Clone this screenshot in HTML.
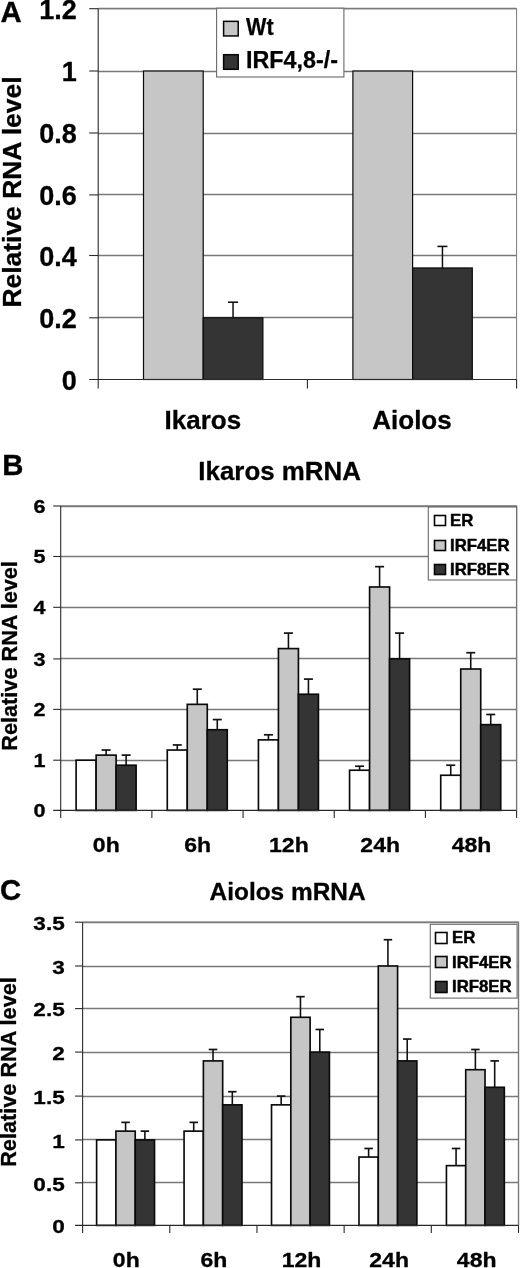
<!DOCTYPE html>
<html lang="en"><head><meta charset="utf-8"><title>Relative RNA level of Ikaros and Aiolos</title>
<style>
html,body{margin:0;padding:0;background:#fff;}
body{width:520px;height:1268px;overflow:hidden;}
svg{display:block;}
svg text{font-family:"Liberation Sans", Arial, Helvetica, sans-serif;font-weight:bold;}
</style></head><body>
<svg width="520" height="1268" viewBox="0 0 520 1268" role="img" aria-label="Bar charts of relative RNA level">
<rect x="0" y="0" width="520" height="1268" fill="#fff"/>
<g>
<rect x="98.2" y="8.7" width="418.4" height="370.8" fill="#fff"/>
<line x1="98.2" y1="317.5" x2="516.6" y2="317.5" stroke="#787878" stroke-width="1.35"/>
<line x1="98.2" y1="255.5" x2="516.6" y2="255.5" stroke="#787878" stroke-width="1.35"/>
<line x1="98.2" y1="194.5" x2="516.6" y2="194.5" stroke="#787878" stroke-width="1.35"/>
<line x1="98.2" y1="133.5" x2="516.6" y2="133.5" stroke="#787878" stroke-width="1.35"/>
<line x1="98.2" y1="71.5" x2="516.6" y2="71.5" stroke="#787878" stroke-width="1.35"/>
<line x1="98.2" y1="8.5" x2="516.6" y2="8.5" stroke="#787878" stroke-width="1.35"/>
<line x1="98.2" y1="8.7" x2="516.6" y2="8.7" stroke="#7a7a7a" stroke-width="1.3"/>
<line x1="516.6" y1="8.2" x2="516.6" y2="379.5" stroke="#7a7a7a" stroke-width="1"/>
<rect x="143.5" y="71" width="59.7" height="308.5" fill="#c6c6c6" stroke="#0a0a0a" stroke-width="1.2"/>
<line x1="233.05" y1="317.8" x2="233.05" y2="302.23" stroke="#111" stroke-width="1.5"/>
<line x1="228.05" y1="302.23" x2="238.05" y2="302.23" stroke="#111" stroke-width="1.6"/>
<rect x="203.2" y="317.8" width="59.7" height="61.7" fill="#343434" stroke="#0a0a0a" stroke-width="1.2"/>
<rect x="352.9" y="71" width="59.7" height="308.5" fill="#c6c6c6" stroke="#0a0a0a" stroke-width="1.2"/>
<line x1="442.45" y1="267.96" x2="442.45" y2="246.41" stroke="#111" stroke-width="1.5"/>
<line x1="437.45" y1="246.41" x2="447.45" y2="246.41" stroke="#111" stroke-width="1.6"/>
<rect x="412.6" y="267.96" width="59.7" height="111.54" fill="#343434" stroke="#0a0a0a" stroke-width="1.2"/>
<line x1="98.2" y1="8.7" x2="98.2" y2="388.5" stroke="#2a2a2a" stroke-width="1.1"/>
<line x1="89.2" y1="379.5" x2="516.6" y2="379.5" stroke="#2a2a2a" stroke-width="1.1"/>
<line x1="89.2" y1="317.8" x2="98.2" y2="317.8" stroke="#2a2a2a" stroke-width="1.1"/>
<line x1="89.2" y1="255.5" x2="98.2" y2="255.5" stroke="#2a2a2a" stroke-width="1.1"/>
<line x1="89.2" y1="194.9" x2="98.2" y2="194.9" stroke="#2a2a2a" stroke-width="1.1"/>
<line x1="89.2" y1="133" x2="98.2" y2="133" stroke="#2a2a2a" stroke-width="1.1"/>
<line x1="89.2" y1="71" x2="98.2" y2="71" stroke="#2a2a2a" stroke-width="1.1"/>
<line x1="89.2" y1="8.7" x2="98.2" y2="8.7" stroke="#2a2a2a" stroke-width="1.1"/>
<line x1="307.4" y1="379.5" x2="307.4" y2="388.5" stroke="#2a2a2a" stroke-width="1.1"/>
<line x1="516.6" y1="379.5" x2="516.6" y2="388.5" stroke="#2a2a2a" stroke-width="1.1"/>
<text font-size="27" text-anchor="end" fill="#000" stroke="#000" stroke-width="0.3" stroke-linejoin="round" x="0" y="0" transform="translate(76.8 389.9) scale(1 1)">0</text>
<text font-size="27" text-anchor="end" fill="#000" stroke="#000" stroke-width="0.3" stroke-linejoin="round" x="0" y="0" transform="translate(76.8 328.2) scale(1 1)">0.2</text>
<text font-size="27" text-anchor="end" fill="#000" stroke="#000" stroke-width="0.3" stroke-linejoin="round" x="0" y="0" transform="translate(76.8 265.9) scale(1 1)">0.4</text>
<text font-size="27" text-anchor="end" fill="#000" stroke="#000" stroke-width="0.3" stroke-linejoin="round" x="0" y="0" transform="translate(76.8 205.3) scale(1 1)">0.6</text>
<text font-size="27" text-anchor="end" fill="#000" stroke="#000" stroke-width="0.3" stroke-linejoin="round" x="0" y="0" transform="translate(76.8 143.4) scale(1 1)">0.8</text>
<text font-size="27" text-anchor="end" fill="#000" stroke="#000" stroke-width="0.3" stroke-linejoin="round" x="0" y="0" transform="translate(76.8 81.4) scale(1 1)">1</text>
<text font-size="27" text-anchor="end" fill="#000" stroke="#000" stroke-width="0.3" stroke-linejoin="round" x="0" y="0" transform="translate(76.8 19.1) scale(1 1)">1.2</text>
<text font-size="26" text-anchor="middle" fill="#000" stroke="#000" stroke-width="0.3" stroke-linejoin="round" x="202.8" y="428.5">Ikaros</text>
<text font-size="26" text-anchor="middle" fill="#000" stroke="#000" stroke-width="0.3" stroke-linejoin="round" x="412" y="428.5">Aiolos</text>
<text font-size="25.5" text-anchor="middle" fill="#000" stroke="#000" stroke-width="0.3" stroke-linejoin="round" textLength="231" lengthAdjust="spacingAndGlyphs" x="0" y="0" transform="translate(21.3 192) rotate(-90)">Relative RNA level</text>
<text font-size="29.3" text-anchor="start" fill="#000" stroke="#000" stroke-width="0.3" stroke-linejoin="round" x="0.6" y="22.4">A</text>
<rect x="216.6" y="8.2" width="127.3" height="68.8" fill="#fff" stroke="#6a6a6a" stroke-width="1.1"/>
<rect x="223.6" y="21.35" width="14.6" height="14.6" fill="#c6c6c6" stroke="#050505" stroke-width="1.5"/>
<text font-size="23" text-anchor="start" fill="#000" stroke="#000" stroke-width="0.25" stroke-linejoin="round" textLength="27.6" lengthAdjust="spacingAndGlyphs" x="246" y="35.05">Wt</text>
<rect x="223.6" y="54.7" width="14.6" height="14.6" fill="#343434" stroke="#050505" stroke-width="1.5"/>
<text font-size="23" text-anchor="start" fill="#000" stroke="#000" stroke-width="0.25" stroke-linejoin="round" textLength="92" lengthAdjust="spacingAndGlyphs" x="246" y="68.4">IRF4,8-/-</text>
</g>
<g>
<rect x="60.7" y="506" width="455.9" height="304.4" fill="#fff"/>
<line x1="60.7" y1="760.5" x2="516.6" y2="760.5" stroke="#787878" stroke-width="1.35"/>
<line x1="60.7" y1="709.5" x2="516.6" y2="709.5" stroke="#787878" stroke-width="1.35"/>
<line x1="60.7" y1="658.5" x2="516.6" y2="658.5" stroke="#787878" stroke-width="1.35"/>
<line x1="60.7" y1="607.5" x2="516.6" y2="607.5" stroke="#787878" stroke-width="1.35"/>
<line x1="60.7" y1="556.5" x2="516.6" y2="556.5" stroke="#787878" stroke-width="1.35"/>
<line x1="60.7" y1="506.5" x2="516.6" y2="506.5" stroke="#787878" stroke-width="1.35"/>
<line x1="60.7" y1="506" x2="516.6" y2="506" stroke="#7a7a7a" stroke-width="1.4"/>
<line x1="516.6" y1="505.5" x2="516.6" y2="810.4" stroke="#7a7a7a" stroke-width="1.4"/>
<rect x="76.12" y="760.2" width="20" height="50.2" fill="#ffffff" stroke="#0a0a0a" stroke-width="1.65"/>
<line x1="106.12" y1="755.12" x2="106.12" y2="750.04" stroke="#111" stroke-width="1.6"/>
<line x1="101.62" y1="750.04" x2="110.62" y2="750.04" stroke="#111" stroke-width="1.7"/>
<rect x="96.12" y="755.12" width="20" height="55.28" fill="#c6c6c6" stroke="#0a0a0a" stroke-width="1.65"/>
<line x1="126.12" y1="765.22" x2="126.12" y2="755.12" stroke="#111" stroke-width="1.6"/>
<line x1="121.62" y1="755.12" x2="130.62" y2="755.12" stroke="#111" stroke-width="1.7"/>
<rect x="116.12" y="765.22" width="20" height="45.18" fill="#343434" stroke="#0a0a0a" stroke-width="1.65"/>
<line x1="177.27" y1="750.04" x2="177.27" y2="744.96" stroke="#111" stroke-width="1.6"/>
<line x1="172.77" y1="744.96" x2="181.77" y2="744.96" stroke="#111" stroke-width="1.7"/>
<rect x="167.27" y="750.04" width="20" height="60.36" fill="#ffffff" stroke="#0a0a0a" stroke-width="1.65"/>
<line x1="197.27" y1="704.35" x2="197.27" y2="689.2" stroke="#111" stroke-width="1.6"/>
<line x1="192.77" y1="689.2" x2="201.77" y2="689.2" stroke="#111" stroke-width="1.7"/>
<rect x="187.27" y="704.35" width="20" height="106.05" fill="#c6c6c6" stroke="#0a0a0a" stroke-width="1.65"/>
<line x1="217.27" y1="729.72" x2="217.27" y2="719.56" stroke="#111" stroke-width="1.6"/>
<line x1="212.77" y1="719.56" x2="221.77" y2="719.56" stroke="#111" stroke-width="1.7"/>
<rect x="207.27" y="729.72" width="20" height="80.68" fill="#343434" stroke="#0a0a0a" stroke-width="1.65"/>
<line x1="268.43" y1="739.88" x2="268.43" y2="734.8" stroke="#111" stroke-width="1.6"/>
<line x1="263.93" y1="734.8" x2="272.93" y2="734.8" stroke="#111" stroke-width="1.7"/>
<rect x="258.43" y="739.88" width="20" height="70.52" fill="#ffffff" stroke="#0a0a0a" stroke-width="1.65"/>
<line x1="288.43" y1="648.58" x2="288.43" y2="633.1" stroke="#111" stroke-width="1.6"/>
<line x1="283.93" y1="633.1" x2="292.93" y2="633.1" stroke="#111" stroke-width="1.7"/>
<rect x="278.43" y="648.58" width="20" height="161.82" fill="#c6c6c6" stroke="#0a0a0a" stroke-width="1.65"/>
<line x1="308.43" y1="694.25" x2="308.43" y2="679.1" stroke="#111" stroke-width="1.6"/>
<line x1="303.93" y1="679.1" x2="312.93" y2="679.1" stroke="#111" stroke-width="1.7"/>
<rect x="298.43" y="694.25" width="20" height="116.15" fill="#343434" stroke="#0a0a0a" stroke-width="1.65"/>
<line x1="359.58" y1="770.24" x2="359.58" y2="766.22" stroke="#111" stroke-width="1.6"/>
<line x1="355.08" y1="766.22" x2="364.08" y2="766.22" stroke="#111" stroke-width="1.7"/>
<rect x="349.58" y="770.24" width="20" height="40.16" fill="#ffffff" stroke="#0a0a0a" stroke-width="1.65"/>
<line x1="379.58" y1="586.98" x2="379.58" y2="566.66" stroke="#111" stroke-width="1.6"/>
<line x1="375.08" y1="566.66" x2="384.08" y2="566.66" stroke="#111" stroke-width="1.7"/>
<rect x="369.58" y="586.98" width="20" height="223.42" fill="#c6c6c6" stroke="#0a0a0a" stroke-width="1.65"/>
<line x1="399.58" y1="658.9" x2="399.58" y2="633.1" stroke="#111" stroke-width="1.6"/>
<line x1="395.08" y1="633.1" x2="404.08" y2="633.1" stroke="#111" stroke-width="1.7"/>
<rect x="389.58" y="658.9" width="20" height="151.5" fill="#343434" stroke="#0a0a0a" stroke-width="1.65"/>
<line x1="450.73" y1="775.26" x2="450.73" y2="765.22" stroke="#111" stroke-width="1.6"/>
<line x1="446.23" y1="765.22" x2="455.23" y2="765.22" stroke="#111" stroke-width="1.7"/>
<rect x="440.73" y="775.26" width="20" height="35.14" fill="#ffffff" stroke="#0a0a0a" stroke-width="1.65"/>
<line x1="470.73" y1="669" x2="470.73" y2="652.71" stroke="#111" stroke-width="1.6"/>
<line x1="466.23" y1="652.71" x2="475.23" y2="652.71" stroke="#111" stroke-width="1.7"/>
<rect x="460.73" y="669" width="20" height="141.4" fill="#c6c6c6" stroke="#0a0a0a" stroke-width="1.65"/>
<line x1="490.73" y1="724.64" x2="490.73" y2="714.48" stroke="#111" stroke-width="1.6"/>
<line x1="486.23" y1="714.48" x2="495.23" y2="714.48" stroke="#111" stroke-width="1.7"/>
<rect x="480.73" y="724.64" width="20" height="85.76" fill="#343434" stroke="#0a0a0a" stroke-width="1.65"/>
<line x1="60.7" y1="506" x2="60.7" y2="817.9" stroke="#2a2a2a" stroke-width="1.1"/>
<line x1="53.2" y1="810.4" x2="516.6" y2="810.4" stroke="#2a2a2a" stroke-width="1.1"/>
<line x1="53.2" y1="760.2" x2="60.7" y2="760.2" stroke="#2a2a2a" stroke-width="1.1"/>
<line x1="53.2" y1="709.4" x2="60.7" y2="709.4" stroke="#2a2a2a" stroke-width="1.1"/>
<line x1="53.2" y1="658.9" x2="60.7" y2="658.9" stroke="#2a2a2a" stroke-width="1.1"/>
<line x1="53.2" y1="607.3" x2="60.7" y2="607.3" stroke="#2a2a2a" stroke-width="1.1"/>
<line x1="53.2" y1="556.5" x2="60.7" y2="556.5" stroke="#2a2a2a" stroke-width="1.1"/>
<line x1="53.2" y1="506" x2="60.7" y2="506" stroke="#2a2a2a" stroke-width="1.1"/>
<line x1="151.88" y1="810.4" x2="151.88" y2="817.9" stroke="#2a2a2a" stroke-width="1.1"/>
<line x1="243.06" y1="810.4" x2="243.06" y2="817.9" stroke="#2a2a2a" stroke-width="1.1"/>
<line x1="334.24" y1="810.4" x2="334.24" y2="817.9" stroke="#2a2a2a" stroke-width="1.1"/>
<line x1="425.42" y1="810.4" x2="425.42" y2="817.9" stroke="#2a2a2a" stroke-width="1.1"/>
<line x1="516.6" y1="810.4" x2="516.6" y2="817.9" stroke="#2a2a2a" stroke-width="1.1"/>
<text font-size="18" text-anchor="end" fill="#000" stroke="#000" stroke-width="0.3" stroke-linejoin="round" x="0" y="0" transform="translate(45.5 817) scale(1.2 1)">0</text>
<text font-size="18" text-anchor="end" fill="#000" stroke="#000" stroke-width="0.3" stroke-linejoin="round" x="0" y="0" transform="translate(45.5 766.8) scale(1.2 1)">1</text>
<text font-size="18" text-anchor="end" fill="#000" stroke="#000" stroke-width="0.3" stroke-linejoin="round" x="0" y="0" transform="translate(45.5 716) scale(1.2 1)">2</text>
<text font-size="18" text-anchor="end" fill="#000" stroke="#000" stroke-width="0.3" stroke-linejoin="round" x="0" y="0" transform="translate(45.5 665.5) scale(1.2 1)">3</text>
<text font-size="18" text-anchor="end" fill="#000" stroke="#000" stroke-width="0.3" stroke-linejoin="round" x="0" y="0" transform="translate(45.5 613.9) scale(1.2 1)">4</text>
<text font-size="18" text-anchor="end" fill="#000" stroke="#000" stroke-width="0.3" stroke-linejoin="round" x="0" y="0" transform="translate(45.5 563.1) scale(1.2 1)">5</text>
<text font-size="18" text-anchor="end" fill="#000" stroke="#000" stroke-width="0.3" stroke-linejoin="round" x="0" y="0" transform="translate(45.5 512.6) scale(1.2 1)">6</text>
<text font-size="20.2" text-anchor="middle" fill="#000" stroke="#000" stroke-width="0.3" stroke-linejoin="round" x="0" y="0" transform="translate(106.3 851.6) scale(1.14 1)">0h</text>
<text font-size="20.2" text-anchor="middle" fill="#000" stroke="#000" stroke-width="0.3" stroke-linejoin="round" x="0" y="0" transform="translate(197.6 851.6) scale(1.14 1)">6h</text>
<text font-size="20.2" text-anchor="middle" fill="#000" stroke="#000" stroke-width="0.3" stroke-linejoin="round" x="0" y="0" transform="translate(288.9 851.6) scale(1.14 1)">12h</text>
<text font-size="20.2" text-anchor="middle" fill="#000" stroke="#000" stroke-width="0.3" stroke-linejoin="round" x="0" y="0" transform="translate(380.2 851.6) scale(1.14 1)">24h</text>
<text font-size="20.2" text-anchor="middle" fill="#000" stroke="#000" stroke-width="0.3" stroke-linejoin="round" x="0" y="0" transform="translate(471.5 851.6) scale(1.14 1)">48h</text>
<text font-size="22.8" text-anchor="middle" fill="#000" stroke="#000" stroke-width="0.3" stroke-linejoin="round" textLength="189.6" lengthAdjust="spacingAndGlyphs" x="0" y="0" transform="translate(17.2 655.9) rotate(-90)">Relative RNA level</text>
<text font-size="25" text-anchor="middle" fill="#000" stroke="#000" stroke-width="0.3" stroke-linejoin="round" textLength="162.5" lengthAdjust="spacingAndGlyphs" x="279.6" y="480.4">Ikaros mRNA</text>
<text font-size="29.3" text-anchor="start" fill="#000" stroke="#000" stroke-width="0.3" stroke-linejoin="round" x="2.2" y="475.3">B</text>
<rect x="428.3" y="507" width="88.3" height="73" fill="#fff" stroke="#6a6a6a" stroke-width="1.1"/>
<rect x="434.5" y="515.5" width="11" height="10" fill="#ffffff" stroke="#050505" stroke-width="1.6"/>
<text font-size="16" text-anchor="start" fill="#000" stroke="#000" stroke-width="0.45" stroke-linejoin="round" x="0" y="0" transform="translate(450 525.7) scale(1.05 1)">ER</text>
<rect x="434.5" y="540.5" width="11" height="10" fill="#c6c6c6" stroke="#050505" stroke-width="1.6"/>
<text font-size="16" text-anchor="start" fill="#000" stroke="#000" stroke-width="0.45" stroke-linejoin="round" x="0" y="0" transform="translate(450 550.6) scale(1.05 1)">IRF4ER</text>
<rect x="434.5" y="564.5" width="11" height="10" fill="#343434" stroke="#050505" stroke-width="1.6"/>
<text font-size="16" text-anchor="start" fill="#000" stroke="#000" stroke-width="0.45" stroke-linejoin="round" x="0" y="0" transform="translate(450 575) scale(1.05 1)">IRF8ER</text>
</g>
<g>
<rect x="82.6" y="922.2" width="435.9" height="303.2" fill="#fff"/>
<line x1="82.6" y1="1182.5" x2="518.5" y2="1182.5" stroke="#787878" stroke-width="1.35"/>
<line x1="82.6" y1="1139.5" x2="518.5" y2="1139.5" stroke="#787878" stroke-width="1.35"/>
<line x1="82.6" y1="1096.5" x2="518.5" y2="1096.5" stroke="#787878" stroke-width="1.35"/>
<line x1="82.6" y1="1052.5" x2="518.5" y2="1052.5" stroke="#787878" stroke-width="1.35"/>
<line x1="82.6" y1="1008.5" x2="518.5" y2="1008.5" stroke="#787878" stroke-width="1.35"/>
<line x1="82.6" y1="966.5" x2="518.5" y2="966.5" stroke="#787878" stroke-width="1.35"/>
<line x1="82.6" y1="922.5" x2="518.5" y2="922.5" stroke="#787878" stroke-width="1.35"/>
<line x1="82.6" y1="922.2" x2="518.5" y2="922.2" stroke="#7a7a7a" stroke-width="1.4"/>
<line x1="518.5" y1="921.7" x2="518.5" y2="1225.4" stroke="#7a7a7a" stroke-width="1.4"/>
<rect x="96.62" y="1139.9" width="19.3" height="85.5" fill="#ffffff" stroke="#0a0a0a" stroke-width="1.65"/>
<line x1="125.58" y1="1131.14" x2="125.58" y2="1122.38" stroke="#111" stroke-width="1.6"/>
<line x1="121.33" y1="1122.38" x2="129.82" y2="1122.38" stroke="#111" stroke-width="1.7"/>
<rect x="115.92" y="1131.14" width="19.3" height="94.26" fill="#c6c6c6" stroke="#0a0a0a" stroke-width="1.65"/>
<line x1="144.88" y1="1139.9" x2="144.88" y2="1131.14" stroke="#111" stroke-width="1.6"/>
<line x1="140.62" y1="1131.14" x2="149.12" y2="1131.14" stroke="#111" stroke-width="1.7"/>
<rect x="135.22" y="1139.9" width="19.3" height="85.5" fill="#343434" stroke="#0a0a0a" stroke-width="1.65"/>
<line x1="193.72" y1="1131.14" x2="193.72" y2="1122.38" stroke="#111" stroke-width="1.6"/>
<line x1="189.47" y1="1122.38" x2="197.97" y2="1122.38" stroke="#111" stroke-width="1.7"/>
<rect x="184.07" y="1131.14" width="19.3" height="94.26" fill="#ffffff" stroke="#0a0a0a" stroke-width="1.65"/>
<line x1="213.03" y1="1060.9" x2="213.03" y2="1049.49" stroke="#111" stroke-width="1.6"/>
<line x1="208.78" y1="1049.49" x2="217.28" y2="1049.49" stroke="#111" stroke-width="1.7"/>
<rect x="203.38" y="1060.9" width="19.3" height="164.5" fill="#c6c6c6" stroke="#0a0a0a" stroke-width="1.65"/>
<line x1="232.32" y1="1104.86" x2="232.32" y2="1091.7" stroke="#111" stroke-width="1.6"/>
<line x1="228.07" y1="1091.7" x2="236.57" y2="1091.7" stroke="#111" stroke-width="1.7"/>
<rect x="222.67" y="1104.86" width="19.3" height="120.54" fill="#343434" stroke="#0a0a0a" stroke-width="1.65"/>
<line x1="281.17" y1="1104.86" x2="281.17" y2="1096.1" stroke="#111" stroke-width="1.6"/>
<line x1="276.92" y1="1096.1" x2="285.42" y2="1096.1" stroke="#111" stroke-width="1.7"/>
<rect x="271.52" y="1104.86" width="19.3" height="120.54" fill="#ffffff" stroke="#0a0a0a" stroke-width="1.65"/>
<line x1="300.47" y1="1017.3" x2="300.47" y2="996.67" stroke="#111" stroke-width="1.6"/>
<line x1="296.22" y1="996.67" x2="304.72" y2="996.67" stroke="#111" stroke-width="1.7"/>
<rect x="290.82" y="1017.3" width="19.3" height="208.1" fill="#c6c6c6" stroke="#0a0a0a" stroke-width="1.65"/>
<line x1="319.77" y1="1052.1" x2="319.77" y2="1029.48" stroke="#111" stroke-width="1.6"/>
<line x1="315.52" y1="1029.48" x2="324.02" y2="1029.48" stroke="#111" stroke-width="1.7"/>
<rect x="310.12" y="1052.1" width="19.3" height="173.3" fill="#343434" stroke="#0a0a0a" stroke-width="1.65"/>
<line x1="368.62" y1="1157.06" x2="368.62" y2="1148.48" stroke="#111" stroke-width="1.6"/>
<line x1="364.38" y1="1148.48" x2="372.88" y2="1148.48" stroke="#111" stroke-width="1.7"/>
<rect x="358.98" y="1157.06" width="19.3" height="68.34" fill="#ffffff" stroke="#0a0a0a" stroke-width="1.65"/>
<line x1="387.93" y1="966" x2="387.93" y2="939.72" stroke="#111" stroke-width="1.6"/>
<line x1="383.68" y1="939.72" x2="392.18" y2="939.72" stroke="#111" stroke-width="1.7"/>
<rect x="378.28" y="966" width="19.3" height="259.4" fill="#c6c6c6" stroke="#0a0a0a" stroke-width="1.65"/>
<line x1="407.23" y1="1060.9" x2="407.23" y2="1039.05" stroke="#111" stroke-width="1.6"/>
<line x1="402.98" y1="1039.05" x2="411.48" y2="1039.05" stroke="#111" stroke-width="1.7"/>
<rect x="397.58" y="1060.9" width="19.3" height="164.5" fill="#343434" stroke="#0a0a0a" stroke-width="1.65"/>
<line x1="456.07" y1="1165.64" x2="456.07" y2="1148.48" stroke="#111" stroke-width="1.6"/>
<line x1="451.82" y1="1148.48" x2="460.32" y2="1148.48" stroke="#111" stroke-width="1.7"/>
<rect x="446.43" y="1165.64" width="19.3" height="59.76" fill="#ffffff" stroke="#0a0a0a" stroke-width="1.65"/>
<line x1="475.38" y1="1069.7" x2="475.38" y2="1049.49" stroke="#111" stroke-width="1.6"/>
<line x1="471.12" y1="1049.49" x2="479.62" y2="1049.49" stroke="#111" stroke-width="1.7"/>
<rect x="465.73" y="1069.7" width="19.3" height="155.7" fill="#c6c6c6" stroke="#0a0a0a" stroke-width="1.65"/>
<line x1="494.68" y1="1087.3" x2="494.68" y2="1060.9" stroke="#111" stroke-width="1.6"/>
<line x1="490.43" y1="1060.9" x2="498.93" y2="1060.9" stroke="#111" stroke-width="1.7"/>
<rect x="485.03" y="1087.3" width="19.3" height="138.1" fill="#343434" stroke="#0a0a0a" stroke-width="1.65"/>
<line x1="82.6" y1="922.2" x2="82.6" y2="1232.9" stroke="#2a2a2a" stroke-width="1.1"/>
<line x1="75.1" y1="1225.4" x2="518.5" y2="1225.4" stroke="#2a2a2a" stroke-width="1.1"/>
<line x1="75.1" y1="1182.8" x2="82.6" y2="1182.8" stroke="#2a2a2a" stroke-width="1.1"/>
<line x1="75.1" y1="1139.9" x2="82.6" y2="1139.9" stroke="#2a2a2a" stroke-width="1.1"/>
<line x1="75.1" y1="1096.1" x2="82.6" y2="1096.1" stroke="#2a2a2a" stroke-width="1.1"/>
<line x1="75.1" y1="1052.1" x2="82.6" y2="1052.1" stroke="#2a2a2a" stroke-width="1.1"/>
<line x1="75.1" y1="1008.6" x2="82.6" y2="1008.6" stroke="#2a2a2a" stroke-width="1.1"/>
<line x1="75.1" y1="966" x2="82.6" y2="966" stroke="#2a2a2a" stroke-width="1.1"/>
<line x1="75.1" y1="922.2" x2="82.6" y2="922.2" stroke="#2a2a2a" stroke-width="1.1"/>
<line x1="169.78" y1="1225.4" x2="169.78" y2="1232.9" stroke="#2a2a2a" stroke-width="1.1"/>
<line x1="256.96" y1="1225.4" x2="256.96" y2="1232.9" stroke="#2a2a2a" stroke-width="1.1"/>
<line x1="344.14" y1="1225.4" x2="344.14" y2="1232.9" stroke="#2a2a2a" stroke-width="1.1"/>
<line x1="431.32" y1="1225.4" x2="431.32" y2="1232.9" stroke="#2a2a2a" stroke-width="1.1"/>
<line x1="518.5" y1="1225.4" x2="518.5" y2="1232.9" stroke="#2a2a2a" stroke-width="1.1"/>
<text font-size="18.5" text-anchor="end" fill="#000" stroke="#000" stroke-width="0.3" stroke-linejoin="round" x="0" y="0" transform="translate(64.7 1233.2) scale(1.22 1)">0</text>
<text font-size="18.5" text-anchor="end" fill="#000" stroke="#000" stroke-width="0.3" stroke-linejoin="round" x="0" y="0" transform="translate(64.7 1190.6) scale(1.22 1)">0.5</text>
<text font-size="18.5" text-anchor="end" fill="#000" stroke="#000" stroke-width="0.3" stroke-linejoin="round" x="0" y="0" transform="translate(64.7 1147.7) scale(1.22 1)">1</text>
<text font-size="18.5" text-anchor="end" fill="#000" stroke="#000" stroke-width="0.3" stroke-linejoin="round" x="0" y="0" transform="translate(64.7 1103.9) scale(1.22 1)">1.5</text>
<text font-size="18.5" text-anchor="end" fill="#000" stroke="#000" stroke-width="0.3" stroke-linejoin="round" x="0" y="0" transform="translate(64.7 1059.9) scale(1.22 1)">2</text>
<text font-size="18.5" text-anchor="end" fill="#000" stroke="#000" stroke-width="0.3" stroke-linejoin="round" x="0" y="0" transform="translate(64.7 1016.4) scale(1.22 1)">2.5</text>
<text font-size="18.5" text-anchor="end" fill="#000" stroke="#000" stroke-width="0.3" stroke-linejoin="round" x="0" y="0" transform="translate(64.7 973.8) scale(1.22 1)">3</text>
<text font-size="18.5" text-anchor="end" fill="#000" stroke="#000" stroke-width="0.3" stroke-linejoin="round" x="0" y="0" transform="translate(64.7 930) scale(1.22 1)">3.5</text>
<text font-size="20.2" text-anchor="middle" fill="#000" stroke="#000" stroke-width="0.3" stroke-linejoin="round" x="0" y="0" transform="translate(126.3 1266.6) scale(1.14 1)">0h</text>
<text font-size="20.2" text-anchor="middle" fill="#000" stroke="#000" stroke-width="0.3" stroke-linejoin="round" x="0" y="0" transform="translate(213.9 1266.6) scale(1.14 1)">6h</text>
<text font-size="20.2" text-anchor="middle" fill="#000" stroke="#000" stroke-width="0.3" stroke-linejoin="round" x="0" y="0" transform="translate(301.5 1266.6) scale(1.14 1)">12h</text>
<text font-size="20.2" text-anchor="middle" fill="#000" stroke="#000" stroke-width="0.3" stroke-linejoin="round" x="0" y="0" transform="translate(389.1 1266.6) scale(1.14 1)">24h</text>
<text font-size="20.2" text-anchor="middle" fill="#000" stroke="#000" stroke-width="0.3" stroke-linejoin="round" x="0" y="0" transform="translate(476.7 1266.6) scale(1.14 1)">48h</text>
<text font-size="22.8" text-anchor="middle" fill="#000" stroke="#000" stroke-width="0.3" stroke-linejoin="round" textLength="189.6" lengthAdjust="spacingAndGlyphs" x="0" y="0" transform="translate(16.4 1072) rotate(-90)">Relative RNA level</text>
<text font-size="24.5" text-anchor="middle" fill="#000" stroke="#000" stroke-width="0.3" stroke-linejoin="round" textLength="156" lengthAdjust="spacingAndGlyphs" x="287.6" y="900.3">Aiolos mRNA</text>
<text font-size="29.3" text-anchor="start" fill="#000" stroke="#000" stroke-width="0.3" stroke-linejoin="round" x="0" y="900.4">C</text>
<rect x="430.3" y="924.3" width="86.8" height="73.8" fill="#fff" stroke="#6a6a6a" stroke-width="1.1"/>
<rect x="435.5" y="932.5" width="11.5" height="11" fill="#ffffff" stroke="#050505" stroke-width="1.6"/>
<text font-size="16" text-anchor="start" fill="#000" stroke="#000" stroke-width="0.45" stroke-linejoin="round" x="0" y="0" transform="translate(452 943) scale(1.05 1)">ER</text>
<rect x="435.5" y="956.5" width="11.5" height="11" fill="#c6c6c6" stroke="#050505" stroke-width="1.6"/>
<text font-size="16" text-anchor="start" fill="#000" stroke="#000" stroke-width="0.45" stroke-linejoin="round" x="0" y="0" transform="translate(452 967.5) scale(1.05 1)">IRF4ER</text>
<rect x="435.5" y="981.5" width="11.5" height="11" fill="#343434" stroke="#050505" stroke-width="1.6"/>
<text font-size="16" text-anchor="start" fill="#000" stroke="#000" stroke-width="0.45" stroke-linejoin="round" x="0" y="0" transform="translate(452 991.8) scale(1.05 1)">IRF8ER</text>
</g>
</svg>
</body></html>
